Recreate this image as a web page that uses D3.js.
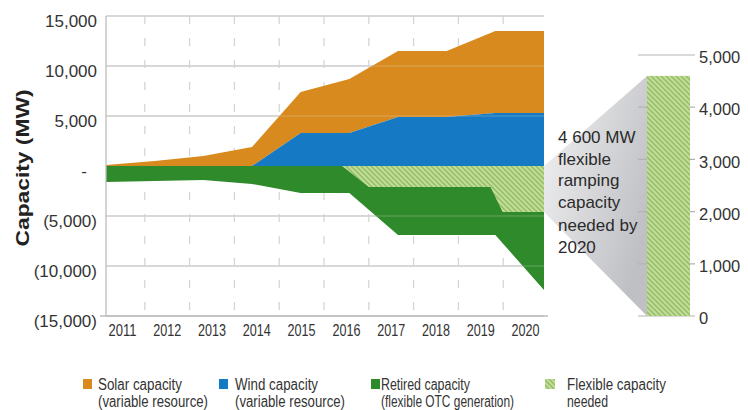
<!DOCTYPE html>
<html><head><meta charset="utf-8">
<script src="https://cdn.jsdelivr.net/npm/d3@7"></script>
<style>
body{margin:0;background:#fff;}
svg{display:block;font-family:"Liberation Sans",Arial,Helvetica,sans-serif;}
</style>
</head><body>
<svg id="chart" width="748" height="410"></svg>
<script>
// ---------------- DATA ----------------
const years = [2011, 2012, 2013, 2014, 2015, 2016, 2017, 2018, 2019, 2020];
const yearLabels = ["2011", "2012", "2013", "2014", "2015", "2016", "2017", "2018", "2019", "2020"];
const solar = [100, 500, 1000, 1900, 4100, 5400, 6600, 6600, 8200, 8200];
const wind = [0, 0, 0, 0, 3300, 3300, 4900, 4900, 5300, 5300];
const retired = [1600, 1500, 1400, 1800, 2700, 2700, 6900, 6900, 6900, 12400];
const flexYears = [2015.85, 2016.4, 2018.9, 2019.15, 2020];
const flexNeeded = [0, 2100, 2100, 4600, 4600];
const flexTotal = 4600;
const leftTicks = [15000, 10000, 5000, 0, -5000, -10000, -15000];
const rightTicks = [0, 1000, 2000, 3000, 4000, 5000];
const legendLine1 = ["Solar capacity", "Wind capacity", "Retired capacity", "Flexible capacity"];
const legendLine2 = ["(variable resource)", "(variable resource)", "(flexible OTC generation)", "needed"];
const noteLines = ["4 600 MW", "flexible", "ramping", "capacity", "needed by", "2020"];
const yTitle = "Capacity (MW)";

// ---------------- STYLE / LAYOUT ----------------
const C = {solar: "#d98a1e", wind: "#1679c3", retired: "#2f8a2b", hatchBg: "#c2dc9b", hatchLine: "#93bf62",
           grid: "#c9c9c9", text: "#333333"};
const legendKeys = ["solar", "wind", "retired", "flex"];
const legendSwatchX = [83, 219, 371, 545];
const legendTextX = [98, 235, 381, 567];
const legendW1 = [84, 83, 89, 99];
const legendW2 = [110, 110, 133, 41];

const svg = d3.select("#chart");
const defs = svg.append("defs");
const pat = defs.append("pattern").attr("id", "hatch").attr("patternUnits", "userSpaceOnUse")
  .attr("width", 5).attr("height", 5);
pat.append("rect").attr("width", 5).attr("height", 5).attr("fill", C.hatchBg);
pat.append("path").attr("d", "M-1,-1 L6,6 M-1,4 L1,6 M4,-1 L6,1")
  .attr("stroke", C.hatchLine).attr("stroke-width", 1.5);
const grad = defs.append("linearGradient").attr("id", "grayGrad")
  .attr("x1", "0").attr("y1", "0").attr("x2", "1").attr("y2", "0.6");
grad.append("stop").attr("offset", "0").attr("stop-color", "#f3f3f4");
grad.append("stop").attr("offset", "1").attr("stop-color", "#bfc0c4");

// scales
const x = d3.scaleLinear().domain([2011, 2020]).range([106, 544]);
const xb = d3.scaleBand().domain(yearLabels).range([100, 548]);
const y = d3.scaleLinear().domain([-15000, 15000]).range([316, 16]);
const y2 = d3.scaleLinear().domain([0, 5000]).range([316, 55]);

// horizontal gridlines (under)
svg.append("g").selectAll("line").data(leftTicks).join("line")
  .attr("x1", 106).attr("x2", 544).attr("y1", d => y(d)).attr("y2", d => y(d))
  .attr("stroke", C.grid).attr("stroke-width", 1.3);

// vertical dashed gridlines at category boundaries
const bounds = yearLabels.slice(1).map(l => xb(l));
svg.append("g").selectAll("line").data(bounds).join("line")
  .attr("x1", d => d).attr("x2", d => d).attr("y1", 16).attr("y2", 322)
  .attr("stroke", "#d3d3d3").attr("stroke-width", 1.2).attr("stroke-dasharray", "8,14");

// stacked positive areas
const rows = years.map((yr, i) => ({year: yr, wind: wind[i], solar: solar[i]}));
const stack = d3.stack().keys(["wind", "solar"])(rows);
const areaPos = d3.area().x(d => x(d.data.year)).y0(d => y(d[0])).y1(d => y(d[1]));
svg.append("path").datum(stack[1]).attr("d", areaPos).attr("fill", C.solar);
svg.append("path").datum(stack[0]).attr("d", areaPos).attr("fill", C.wind);

// retired (negative)
const retRows = years.map((yr, i) => ({year: yr, v: retired[i]}));
svg.append("path").datum(retRows)
  .attr("d", d3.area().x(d => x(d.year)).y0(y(0)).y1(d => y(-d.v)))
  .attr("fill", C.retired);

// flexible needed (hatched)
const flexRows = flexYears.map((yr, i) => ({year: yr, v: flexNeeded[i]}));
svg.append("path").datum(flexRows)
  .attr("d", d3.area().x(d => x(d.year)).y0(y(0)).y1(d => y(-d.v)))
  .attr("fill", "url(#hatch)");

// faint gridlines over areas
svg.append("g").selectAll("line").data(leftTicks.filter(d => d !== 0)).join("line")
  .attr("x1", 106).attr("x2", 544).attr("y1", d => y(d)).attr("y2", d => y(d))
  .attr("stroke", "#e0e0e0").attr("stroke-opacity", 0.3).attr("stroke-width", 1.2);

// axis lines
svg.append("line").attr("x1", 106).attr("x2", 106).attr("y1", 16).attr("y2", 316)
  .attr("stroke", "#bdbdbd").attr("stroke-width", 1.3);
svg.append("line").attr("x1", 100).attr("x2", 548).attr("y1", 316).attr("y2", 316)
  .attr("stroke", "#bdbdbd").attr("stroke-width", 1.3);

// left axis labels
const fmt = d3.format(",");
const yAxis = d3.axisLeft(y).tickValues(leftTicks).tickSize(0).tickPadding(9)
  .tickFormat(d => d === 0 ? "-" : d < 0 ? "(" + fmt(-d) + ")" : fmt(d));
const ga = svg.append("g").attr("transform", "translate(106,0)").call(yAxis);
ga.select(".domain").remove();
ga.selectAll("text").attr("font-size", 17).attr("fill", C.text)
  .attr("font-family", "Liberation Sans, Arial, sans-serif").attr("dy", "0.6em")
  .attr("x", d => d === 0 ? -19 : -9);

// bottom axis labels
const xAxis = d3.axisBottom(xb).tickSize(0).tickPadding(0);
const gx = svg.append("g").attr("transform", "translate(0,316)").call(xAxis);
gx.select(".domain").remove();
gx.selectAll("text").attr("font-size", 17).attr("fill", C.text)
  .attr("font-family", "Liberation Sans, Arial, sans-serif")
  .attr("y", 20).attr("dy", 0).attr("textLength", 28).attr("lengthAdjust", "spacingAndGlyphs");

// y axis title
svg.append("text").attr("transform", "translate(29,168) rotate(-90)")
  .attr("text-anchor", "middle").attr("font-weight", "bold").attr("font-size", 19)
  .attr("fill", "#222").attr("textLength", 157).attr("lengthAdjust", "spacingAndGlyphs")
  .text(yTitle);

// gray connector polygon
const barX0 = 647, barX1 = 690;
svg.append("path")
  .attr("d", `M544,${y(0)} L${barX0},${y2(flexTotal)} L${barX0},${y2(0)} L544,${y(-flexTotal)} Z`)
  .attr("fill", "url(#grayGrad)");

// right axis gridlines and labels
svg.append("g").selectAll("line").data(rightTicks).join("line")
  .attr("x1", 638).attr("x2", 695).attr("y1", d => y2(d)).attr("y2", d => y2(d))
  .attr("stroke", "#b3b3b3").attr("stroke-width", 1.2);
const fmt2 = d3.format(",");
svg.append("g").selectAll("text").data(rightTicks).join("text")
  .attr("x", 699).attr("y", d => y2(d)).attr("dy", "0.5em")
  .attr("font-size", 16.5).attr("fill", C.text).text(d => fmt2(d));

// right bar
svg.append("rect").datum(flexTotal)
  .attr("x", barX0).attr("width", barX1 - barX0)
  .attr("y", d => y2(d)).attr("height", d => y2(0) - y2(d))
  .attr("fill", "url(#hatch)");

// annotation text
const noteBase = [143, 165, 186, 208, 231, 253];
svg.append("g").selectAll("text").data(noteLines).join("text")
  .attr("x", 558).attr("y", (d, i) => noteBase[i])
  .attr("font-size", 17).attr("fill", "#2a2a2a").text(d => d);

// legend
const lg = svg.append("g");
legendKeys.forEach((k, i) => {
  lg.append("rect").attr("x", legendSwatchX[i]).attr("y", 379)
    .attr("width", k === "flex" ? 10 : 9).attr("height", 10)
    .attr("fill", k === "flex" ? "url(#hatch)" : C[k]);
  lg.append("text").attr("x", legendTextX[i]).attr("y", 390).attr("font-size", 16)
    .attr("fill", C.text).attr("textLength", legendW1[i]).attr("lengthAdjust", "spacingAndGlyphs")
    .text(legendLine1[i]);
  lg.append("text").attr("x", legendTextX[i]).attr("y", 407).attr("font-size", 16)
    .attr("fill", C.text).attr("textLength", legendW2[i]).attr("lengthAdjust", "spacingAndGlyphs")
    .text(legendLine2[i]);
});
</script>
</body></html>
